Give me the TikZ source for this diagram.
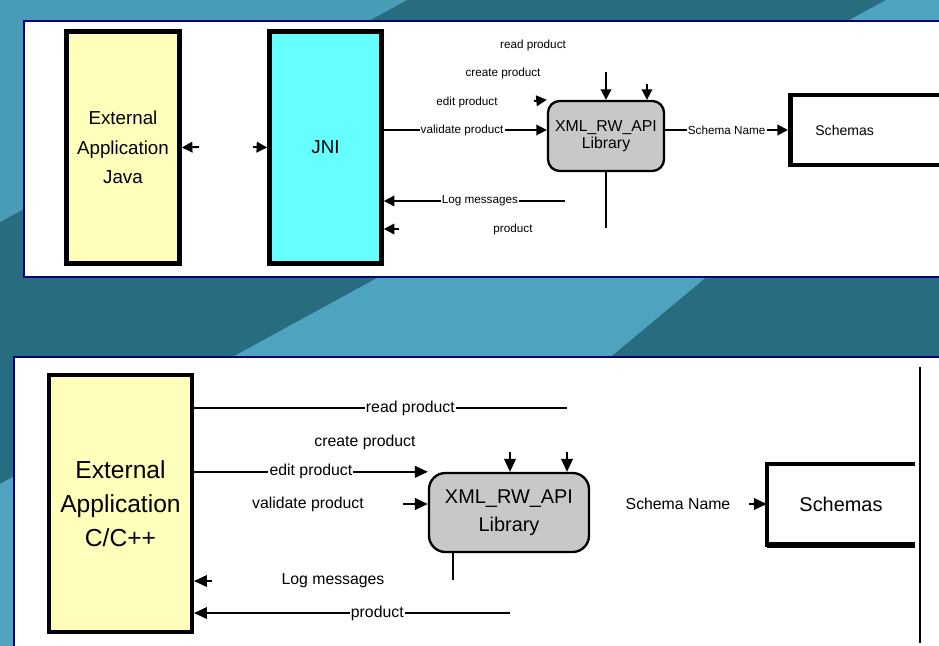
\documentclass[tikz,border=0pt]{standalone}
\usepackage{fontspec}
\setmainfont{Liberation Sans}
\usetikzlibrary{arrows.meta, positioning}

\definecolor{tealdark}{RGB}{40,108,128}
\definecolor{teallight}{RGB}{78,164,190}
\definecolor{panelline}{RGB}{0,0,120}
\definecolor{appyellow}{RGB}{255,255,187}
\definecolor{jnicyan}{RGB}{102,255,255}
\definecolor{libgray}{RGB}{200,200,200}

\begin{document}
\begin{tikzpicture}[
  x=0.03cm, y=-0.03cm,
  panel/.style={draw=panelline, line width=1.2pt, fill=white},
  bigbox/.style={draw, line width=4pt, align=center, font=\fontsize{16}{25}\selectfont},
  libbox/.style={draw, line width=2pt, rounded corners=10pt, fill=libgray, align=center},
  lbl/.style={font=\fontsize{10}{11}\selectfont, fill=white, inner sep=1pt},
  lblb/.style={font=\fontsize{13.5}{15}\selectfont, fill=white, inner sep=1pt},
  arr/.style={-{Triangle[length=9pt,width=9pt]}, line width=1.6pt},
  arrb/.style={-{Triangle[length=11pt,width=10pt]}, line width=1.2pt},
  ln/.style={line width=1.2pt}
]

% background
\useasboundingbox (0,0) rectangle (939,646);
\clip (0,0) rectangle (939,646);
\fill[tealdark] (0,0) rectangle (939,646);
\fill[teallight] (886,0) -- (939,0) -- (939,83) -- (264,646) -- (0,646) -- (0,484) -- cycle;
\fill[teallight!85!tealdark] (0,0) -- (407,0) -- (0,222) -- cycle;

\draw[panel] (24,21) rectangle (960,277);
\draw[panel] (14,357) rectangle (960,660);

% Java panel
\node[bigbox, fill=appyellow, minimum width=3.39cm, minimum height=6.96cm] (javaapp) at (123,147.5) {External\\Application\\Java};
\node[bigbox, fill=jnicyan, minimum width=3.36cm, minimum height=6.96cm] (jni) at (325.5,147.5) {JNI};
\node[libbox, minimum width=3.48cm, minimum height=2.1cm, font=\fontsize{13.5}{15}\selectfont] (xml) at (606,136) {XML\_RW\_API\\Library};
\node[bigbox, fill=white, anchor=west, minimum height=2.1cm, text width=3.9cm, inner xsep=0.75cm, align=left, font=\fontsize{12}{14}\selectfont] (schemas) at (788,130) {Schemas};

\node[lbl] (read) at (533,45) {read product};
\node[lbl] (create) at (503,73) {create product};
\node[lbl] (edit) at (467,102) {edit product};
\node[lbl] (prod) at (513,229) {product};

\coordinate (jout) at (199,147);
\coordinate (jin) at (253,147);
\coordinate (cin) at (534,101);
\coordinate (rin) at (606,72);
\coordinate (uin) at (647,84);
\coordinate (xout) at (606,228);
\coordinate (logsrc) at (565,201);
\coordinate (pin) at (399,229);

\draw[arr] (jout) -- (javaapp.east);
\draw[arr] (jin) -- (jni.west);
\draw[arr] (jni.east |- schemas.west) -- node[lbl, pos=0.48] {validate product} (xml.west |- schemas.west);
\draw[arr] (cin) -- (xml.north west);
\draw[arr] (rin) -- (xml.north);
\draw[arr] (uin) -- (uin |- xml.north);
\draw[ln, line width=1.6pt] (xml.south) -- (xout);
\draw[arr] (logsrc) -- node[lbl, pos=0.47] {Log messages} (logsrc -| jni.east);
\draw[arr] (pin) -- (pin -| jni.east);
\draw[arr] (xml.east |- schemas.west) -- node[lbl] {Schema Name} (schemas.west);

% C/C++ panel
\node[bigbox, fill=appyellow, line width=3.5pt, minimum width=4.29cm, minimum height=7.71cm, font=\fontsize{21}{29}\selectfont] (capp) at (120.5,503.5) {External\\Application\\C/C++};
\node[libbox, minimum width=4.8cm, minimum height=2.37cm, rounded corners=14pt, font=\fontsize{17}{24}\selectfont] (xmlb) at (509,512.5) {XML\_RW\_API\\Library};
\node[minimum width=4.44cm, minimum height=2.43cm, font=\fontsize{17}{20}\selectfont] (schemasb) at (841,504.5) {Schemas};
\draw[line width=3.5pt] (schemasb.north east) -- (schemasb.north west) -- (schemasb.south west) -- (schemasb.south east);
\draw[line width=5pt] (schemasb.south west) -- (schemasb.south east);

\node[lblb] (createb) at (365,442) {create product};
\node[lblb] (validb) at (308,504) {validate product};
\node[lblb] (logb) at (333,581) {Log messages};
\node[lblb] (schname) at (678,504) {Schema Name};

\coordinate (readend) at (567,408);
\coordinate (vin) at (403,504);
\coordinate (tin1) at (510,452);
\coordinate (tin2) at (567,452);
\coordinate (bout) at (453,580);
\coordinate (login) at (212,581);
\coordinate (prodsrc) at (510,613);
\coordinate (sin) at (749,504);
\coordinate (vtop) at (920,367);
\coordinate (vbot) at (920,643);

\draw[ln] (capp.east |- readend) -- node[lblb, pos=0.58] {read product} (readend);
\draw[arrb] (capp.east |- xmlb.north west) -- node[lblb] {edit product} (xmlb.north west);
\draw[arrb] (vin) -- (vin -| xmlb.west);
\draw[arrb] (tin1) -- (tin1 |- xmlb.north);
\draw[arrb] (tin2) -- (tin2 |- xmlb.north);
\draw[ln] (bout |- xmlb.south) -- (bout);
\draw[arrb] (login) -- (login -| capp.east);
\draw[arrb] (prodsrc) -- node[lblb, pos=0.42] {product} (prodsrc -| capp.east);
\draw[arrb] (sin) -- (sin -| schemasb.west);
\draw[ln] (vtop) -- (vbot);

\end{tikzpicture}
\end{document}
